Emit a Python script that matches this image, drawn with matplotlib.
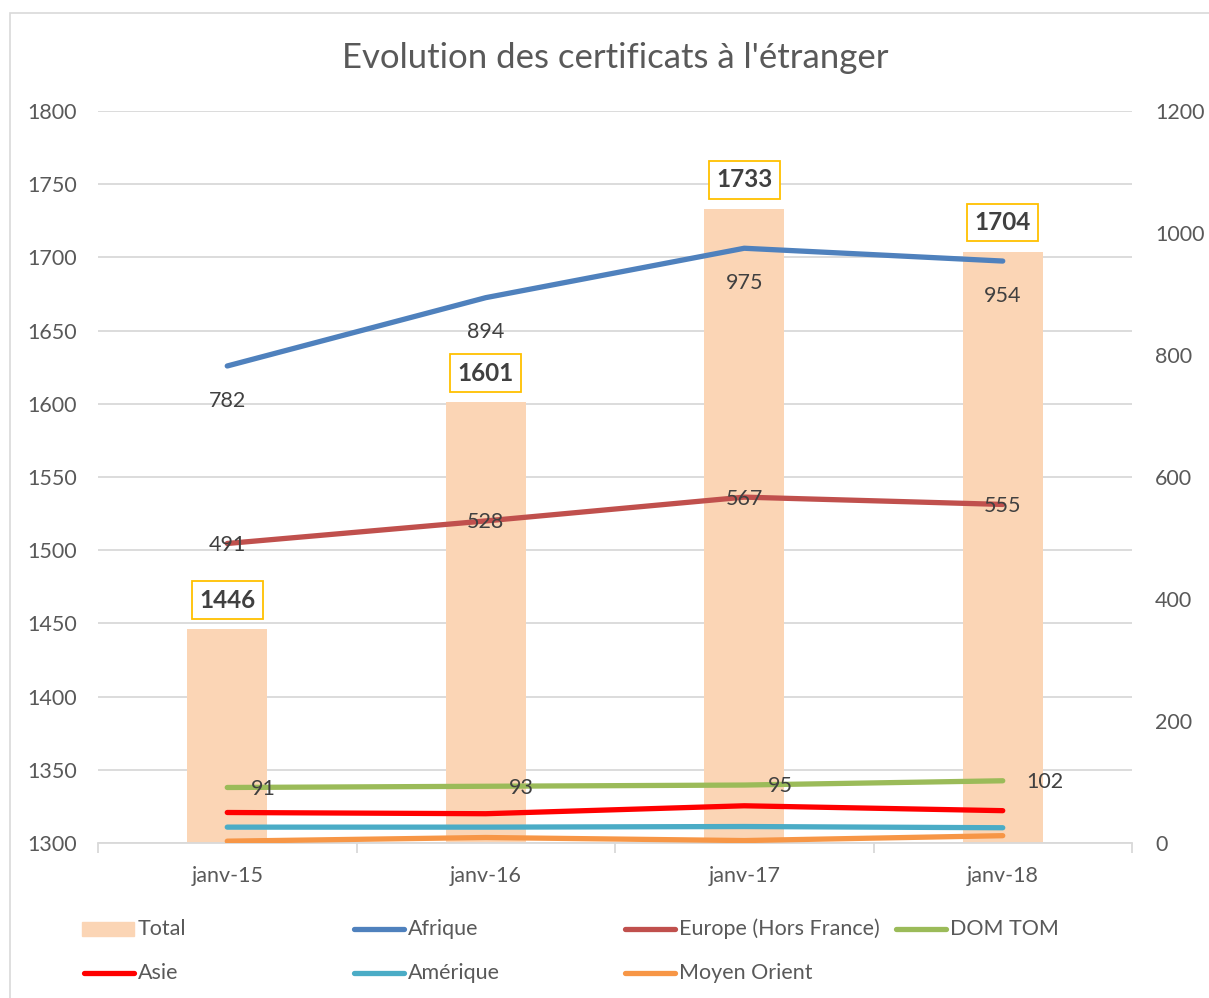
import matplotlib
matplotlib.use("Agg")
import matplotlib.pyplot as plt
from matplotlib.lines import Line2D
from matplotlib.patches import Rectangle

plt.rcParams['font.family'] = ['Lato', 'DejaVu Sans']

categories = ["janv-15", "janv-16", "janv-17", "janv-18"]
total = [1446, 1601, 1733, 1704]
afrique = [782, 894, 975, 954]
europe = [491, 528, 567, 555]
domtom = [91, 93, 95, 102]
asie = [50, 48, 61, 53]
amerique = [26, 26, 27, 25]
moyen_orient = [3, 9, 4, 12]

W, H = 1209, 998
fig = plt.figure(figsize=(W / 100, H / 100), dpi=100)

def fx(px):
    return px / W

def fy(py):
    return 1 - py / H

# outer chart border
fig.patches.append(Rectangle((fx(10), fy(1010)), fx(1215) - fx(10), fy(13) - fy(1010),
                             transform=fig.transFigure, fill=False, edgecolor='#D9D9D9', lw=1.2))

ax = fig.add_axes([fx(98), fy(843), fx(1132) - fx(98), fy(111) - fy(843)])
ax2 = ax.twinx()

grey_txt = '#595959'
lab_txt = '#404040'
fs = 15.5
x = list(range(len(categories)))

ax.bar(x, total, width=0.31, color='#FBD5B5', zorder=2)
ax.set_ylim(1300, 1800)
ax.set_xlim(-0.5, 3.5)
ax.set_yticks(range(1300, 1801, 50))
ax.grid(axis='y', color='#D9D9D9', lw=1.3, zorder=0)
ax.set_axisbelow(True)
for s in ['left', 'right', 'top']:
    ax.spines[s].set_visible(False)
ax.spines['bottom'].set_color('#D9D9D9')
ax.spines['bottom'].set_linewidth(1.3)
ax.set_xticks(x)
ax.set_xticklabels(categories)
ax.set_xticks([-0.5, 0.5, 1.5, 2.5, 3.5], minor=True)
ax.tick_params(axis='x', which='major', length=0, pad=16.5, labelsize=fs, labelcolor=grey_txt)
ax.tick_params(axis='x', which='minor', length=7, width=1.3, color='#D9D9D9', direction='out')
ax.tick_params(axis='y', length=0, pad=15, labelsize=fs, labelcolor=grey_txt)

for xi, v in zip(x, total):
    ax.annotate(str(v), (xi, v), xytext=(0, 21), textcoords='offset points',
                ha='center', va='center', fontsize=17.5, fontweight='bold', color=lab_txt,
                bbox=dict(boxstyle='square,pad=0.3', fc='white', ec='#FFC000', lw=1.3),
                zorder=5)

lw = 3.8
series = [
    (afrique, '#4F81BD', 'Afrique'),
    (europe, '#C0504D', 'Europe (Hors France)'),
    (domtom, '#9BBB59', 'DOM TOM'),
    (asie, '#FF0000', 'Asie'),
    (amerique, '#4BACC6', 'Amérique'),
    (moyen_orient, '#F79646', 'Moyen Orient'),
]
for vals, col, name in series:
    ax2.plot(x, vals, color=col, lw=lw, solid_capstyle='round', zorder=3)

ax2.set_ylim(0, 1200)
ax2.set_yticks(range(0, 1201, 200))
for s in ['left', 'right', 'top', 'bottom']:
    ax2.spines[s].set_visible(False)
ax2.tick_params(axis='y', length=0, pad=16.5, labelsize=fs, labelcolor=grey_txt)

for xi, v in zip(x, afrique):
    ax2.annotate(str(v), (xi, v), xytext=(0, -25), textcoords='offset points',
                 ha='center', va='center', fontsize=fs, color=lab_txt)
for xi, v in zip(x, europe):
    ax2.annotate(str(v), (xi, v), xytext=(0, -1), textcoords='offset points',
                 ha='center', va='center', fontsize=fs, color=lab_txt)
for xi, v in zip(x, domtom):
    ax2.annotate(str(v), (xi, v), xytext=(17, -1), textcoords='offset points',
                 ha='left', va='center', fontsize=fs, color=lab_txt)

fig.text(fx(615), fy(58), "Evolution des certificats à l'étranger", ha='center', va='center',
         fontsize=25, color=grey_txt)

# legend (manual, Excel-like fixed columns)
leg_items = [
    ('bar', '#FBD5B5', 'Total', 82, 929),
    ('line', '#4F81BD', 'Afrique', 352, 929),
    ('line', '#C0504D', 'Europe (Hors France)', 623, 929),
    ('line', '#9BBB59', 'DOM TOM', 894, 929),
    ('line', '#FF0000', 'Asie', 82, 973),
    ('line', '#4BACC6', 'Amérique', 352, 973),
    ('line', '#F79646', 'Moyen Orient', 623, 973),
]
for kind, col, name, px, py in leg_items:
    if kind == 'bar':
        fig.patches.append(Rectangle((fx(px), fy(py + 7)), fx(52), 14 / H,
                                     transform=fig.transFigure, color=col))
    else:
        fig.lines.append(Line2D([fx(px + 2), fx(px + 52)], [fy(py), fy(py)],
                                transform=fig.transFigure, color=col, lw=lw,
                                solid_capstyle='round'))
    fig.text(fx(px + 56), fy(py), name, ha='left', va='center', fontsize=fs, color=grey_txt)

fig.savefig('out.png', dpi=100, facecolor='white')
